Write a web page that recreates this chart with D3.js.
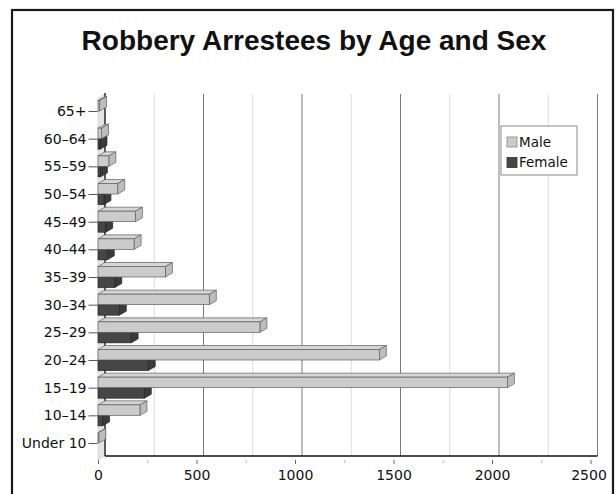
<!DOCTYPE html>
<html>
<head>
<meta charset="utf-8">
<script src="https://cdn.jsdelivr.net/npm/d3@7"></script>
<style>
  body { margin: 0; background: #fff; }
  svg { display: block; }
</style>
</head>
<body>
<svg id="chart" width="616" height="494"></svg>
<script>
const categories = ["65+", "60–64", "55–59", "50–54", "45–49", "40–44", "35–39", "30–34", "25–29", "20–24", "15–19", "10–14", "Under 10"];
const maleValues = [8, 18, 55, 100, 190, 183, 342, 565, 822, 1428, 2078, 213, 4];
const femaleValues = [0, 10, 12, 30, 39, 47, 85, 108, 168, 255, 235, 23, 0];
const xTicks = [0, 500, 1000, 1500, 2000, 2500];
const minorTicks = [250, 750, 1250, 1750, 2250];
const seriesNames = ["Male", "Female"];
const title = "Robbery Arrestees by Age and Sex";

const svg = d3.select("#chart");
const font = "'DejaVu Sans', sans-serif";
const DX = 7, DY = -4;
const BAR_H = 10.5;
const TOP_FRONT = 98, BOTTOM_FRONT = 460;

// outer frame
svg.append("rect").attr("x", 12).attr("y", 10).attr("width", 601).attr("height", 500)
  .attr("fill", "none").attr("stroke", "#1a1a1a").attr("stroke-width", 2.2);

svg.append("text").attr("x", 314).attr("y", 50).attr("text-anchor", "middle")
  .attr("font-family", "'Liberation Sans', Arial, sans-serif").attr("font-weight", "bold")
  .attr("font-size", 28).attr("fill", "#111").text(title);

const x = d3.scaleLinear().domain([0, 2500]).range([98, 590.5]);
const y = d3.scalePoint().domain(categories).range([111, 443]);

// wall
svg.append("polygon")
  .attr("points", [[x(0), TOP_FRONT], [x(0) + DX, TOP_FRONT + DY], [x(0) + DX, BOTTOM_FRONT + DY], [x(0), BOTTOM_FRONT]].join(" "))
  .attr("fill", "#e4e4e4").attr("stroke", "#cfcfcf").attr("stroke-width", 0.6);

// gridlines on back plane
const grid = svg.append("g");
grid.selectAll("line.minor").data(minorTicks).enter().append("line")
  .attr("x1", d => x(d) + DX).attr("x2", d => x(d) + DX)
  .attr("y1", TOP_FRONT + DY).attr("y2", BOTTOM_FRONT + DY)
  .attr("stroke", "#dcdcdc").attr("stroke-width", 1);
grid.selectAll("line.major").data(xTicks.filter(d => d > 0)).enter().append("line")
  .attr("x1", d => x(d) + DX).attr("x2", d => x(d) + DX)
  .attr("y1", TOP_FRONT + DY).attr("y2", BOTTOM_FRONT + DY)
  .attr("stroke", "#7a7a7a").attr("stroke-width", 1);

// back axis lines
svg.append("line").attr("x1", x(0) + DX).attr("x2", x(0) + DX)
  .attr("y1", TOP_FRONT + DY - 1).attr("y2", BOTTOM_FRONT + DY)
  .attr("stroke", "#111").attr("stroke-width", 1.3);
svg.append("line").attr("x1", x(0) + DX).attr("x2", x(2500) + DX)
  .attr("y1", BOTTOM_FRONT + DY).attr("y2", BOTTOM_FRONT + DY)
  .attr("stroke", "#111").attr("stroke-width", 1.3);

// bottom axis (front) using d3 axis
const xAxis = d3.axisBottom(x).tickValues(xTicks).tickSize(4).tickPadding(6).tickFormat(d3.format("d"));
const gx = svg.append("g").attr("transform", `translate(0,${BOTTOM_FRONT})`).call(xAxis);
gx.select(".domain").remove();
gx.selectAll(".tick line").attr("stroke", "#666");
gx.selectAll(".tick text").attr("font-family", font).attr("font-size", 14).attr("fill", "#111");
gx.selectAll(".tick").filter(d => d === 2500).select("text").attr("dx", -2);
const gxMinor = svg.append("g").attr("transform", `translate(0,${BOTTOM_FRONT})`)
  .call(d3.axisBottom(x).tickValues(minorTicks).tickSize(3).tickFormat(""));
gxMinor.select(".domain").remove();
gxMinor.selectAll(".tick line").attr("stroke", "#bbb");

// left axis labels
const yAxis = d3.axisLeft(y).tickSize(9).tickPadding(2);
const gy = svg.append("g").attr("transform", `translate(${x(0) - 0.5},0)`).call(yAxis);
gy.select(".domain").remove();
gy.selectAll(".tick line").attr("stroke", "#555");
gy.selectAll(".tick text").attr("font-family", font).attr("font-size", 14).attr("fill", "#111");

// 3D bars
const styles = {
  Male: { front: "#cbcbcb", top: "#d6d6d6", side: "#bdbdbd", stroke: "#5e5e5e" },
  Female: { front: "#464646", top: "#555555", side: "#3a3a3a", stroke: "#222" }
};
function bar3d(g, v, y0, s) {
  if (!(v > 0)) return;
  const x0 = x(0), x1 = x(v), y1 = y0 + BAR_H;
  g.append("polygon").attr("points", [[x0, y0], [x0 + DX, y0 + DY], [x1 + DX, y0 + DY], [x1, y0]].join(" "))
    .attr("fill", s.top).attr("stroke", s.stroke).attr("stroke-width", 0.7).attr("stroke-linejoin", "round");
  g.append("polygon").attr("points", [[x1, y0], [x1 + DX, y0 + DY], [x1 + DX, y1 + DY], [x1, y1]].join(" "))
    .attr("fill", s.side).attr("stroke", s.stroke).attr("stroke-width", 0.7).attr("stroke-linejoin", "round");
  g.append("rect").attr("x", x0).attr("y", y0).attr("width", Math.max(0, x1 - x0)).attr("height", BAR_H)
    .attr("fill", s.front).attr("stroke", s.stroke).attr("stroke-width", 0.7);
}
const bars = svg.append("g");
categories.forEach((c, i) => {
  const g = bars.append("g");
  bar3d(g, femaleValues[i], y(c), styles.Female);
  bar3d(g, maleValues[i], y(c) - BAR_H, styles.Male);
});

// legend
const lg = svg.append("g").attr("transform", "translate(501,126)");
lg.append("rect").attr("width", 76).attr("height", 49).attr("fill", "#fff")
  .attr("stroke", "#8a8a8a").attr("stroke-width", 1);
seriesNames.forEach((n, i) => {
  const yy = 11 + i * 20.5;
  lg.append("rect").attr("x", 6).attr("y", yy).attr("width", 10).attr("height", 10)
    .attr("fill", styles[n].front).attr("stroke", n === "Male" ? "#888" : "#333").attr("stroke-width", 0.8);
  lg.append("text").attr("x", 18).attr("y", yy + 5).attr("dy", "0.36em")
    .attr("font-family", font).attr("font-size", 13.5).attr("fill", "#111").text(n);
});
</script>
</body>
</html>
